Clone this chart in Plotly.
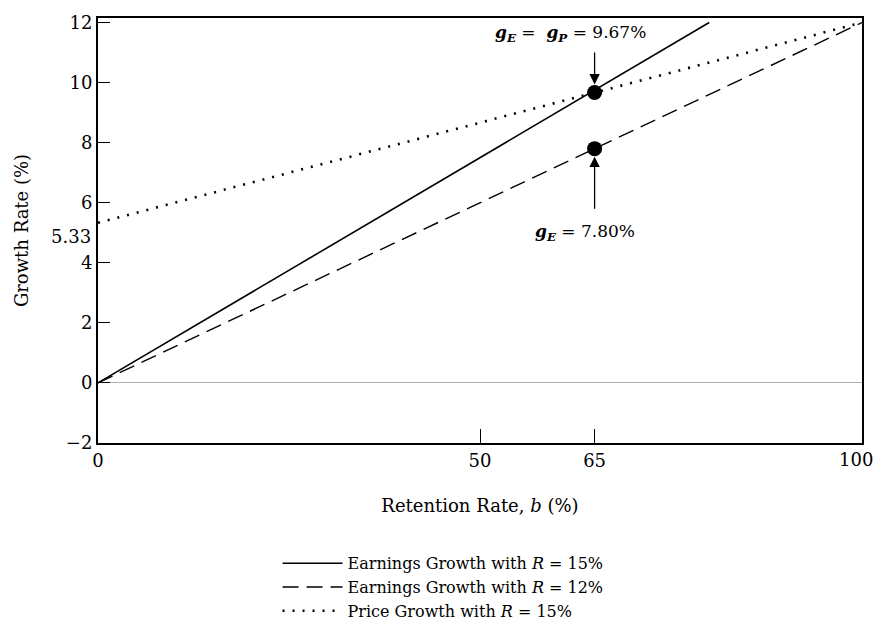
import plotly.graph_objects as go

# Data
b_vals = [0, 100]
R_high = 15.0          # %
R_low = 12.0           # %
price_intercept = 5.33
price_end = 12.0
b_star = 65
gE_gP = 9.67
gE_low = 7.80

x_ticks = [0, 50, 65, 100]
y_ticks = [-2, 0, 2, 4, 6, 8, 10, 12]

FONT = "DejaVu Serif"

# R=15% earnings growth line: g = b * R (stops at top of chart)
b15 = [0, 12.0 / (R_high / 100)]
g15 = [b * R_high / 100 for b in b15]
g12 = [b * R_low / 100 for b in b_vals]
gp = [price_intercept, price_end]

fig = go.Figure()
fig.add_trace(go.Scatter(x=b15, y=g15, mode="lines",
                         line=dict(color="black", width=1.6),
                         name="Earnings Growth with <i>R</i> = 15%"))
fig.add_trace(go.Scatter(x=b_vals, y=g12, mode="lines",
                         line=dict(color="black", width=1.4, dash="16px,8px"),
                         name="Earnings Growth with <i>R</i> = 12%"))
fig.add_trace(go.Scatter(x=b_vals, y=gp, mode="lines",
                         line=dict(color="black", width=2.6, dash="2px,8px"),
                         name="Price Growth with <i>R</i> = 15%"))
fig.add_trace(go.Scatter(x=[b_star, b_star], y=[gE_gP, gE_low], mode="markers",
                         marker=dict(color="black", size=15),
                         showlegend=False))

fig.add_annotation(x=b_star, y=gE_gP, ax=b_star, ay=11.05, axref="x", ayref="y",
                   xref="x", yref="y", text="", showarrow=True,
                   arrowhead=2, arrowsize=1.6, arrowwidth=1.3, standoff=8,
                   arrowcolor="black")
fig.add_annotation(x=b_star, y=gE_low, ax=b_star, ay=5.75, axref="x", ayref="y",
                   xref="x", yref="y", text="", showarrow=True,
                   arrowhead=2, arrowsize=1.6, arrowwidth=1.3, standoff=8,
                   arrowcolor="black")
fig.add_annotation(x=61.8, y=11.65, xref="x", yref="y", showarrow=False,
                   text=f"<b><i>g</i><sub><i>E</i></sub></b> =  <b><i>g</i><sub><i>P</i></sub></b> = {gE_gP:.2f}%",
                   font=dict(family=FONT, size=17, color="black"))
fig.add_annotation(x=63.8, y=5.0, xref="x", yref="y", showarrow=False,
                   text=f"<b><i>g</i><sub><i>E</i></sub></b> = {gE_low:.2f}%",
                   font=dict(family=FONT, size=17, color="black"))
fig.add_annotation(x=0, y=price_intercept, xref="paper", yref="y", showarrow=False,
                   xanchor="right", xshift=-5, yshift=-14,
                   text=f"{price_intercept:.2f}",
                   font=dict(family=FONT, size=18, color="black"))
# last x tick label, kept inside the page edge
fig.add_annotation(x=x_ticks[-1], y=0, xref="x", yref="paper", showarrow=False,
                   xanchor="right", yanchor="top", xshift=13, yshift=-4,
                   text=str(x_ticks[-1]),
                   font=dict(family=FONT, size=18, color="black"))

# page has an 8px body margin; size the figure to fit the 883x633 window
fig.update_layout(
    width=867, height=617,
    margin=dict(l=90, r=13, t=10, b=182, autoexpand=False),
    paper_bgcolor="white", plot_bgcolor="white",
    font=dict(family=FONT, size=18, color="black"),
    showlegend=True,
    legend=dict(x=0.235, xanchor="left", y=-0.243, yanchor="top",
                font=dict(family=FONT, size=16, color="black"),
                itemwidth=60, tracegroupgap=0, bgcolor="rgba(0,0,0,0)"),
)
fig.update_xaxes(range=[0, 100], tickvals=x_ticks,
                 ticktext=[str(v) if v != x_ticks[-1] else "" for v in x_ticks],
                 ticks="inside", ticklen=14, tickwidth=1.2, tickcolor="black",
                 showline=True, linecolor="black", linewidth=2, mirror=True,
                 showgrid=False, zeroline=False, automargin=False,
                 title=dict(text="Retention Rate, <i>b</i> (%)", standoff=30,
                            font=dict(family=FONT, size=18)),
                 tickfont=dict(family=FONT, size=18))
fig.update_yaxes(range=[-2, 12.15], tickvals=y_ticks,
                 ticktext=[("\u2212" + str(-v)) if v < 0 else str(v) for v in y_ticks],
                 ticks="inside", ticklen=12, tickwidth=1.2, tickcolor="black",
                 showline=True, linecolor="black", linewidth=2, mirror=True,
                 showgrid=False, zeroline=True, zerolinecolor="#b0b0b0", zerolinewidth=1,
                 automargin=False,
                 title=dict(text="Growth Rate (%)", standoff=33,
                            font=dict(family=FONT, size=18)),
                 tickfont=dict(family=FONT, size=18))

fig.write_html("out.html")
